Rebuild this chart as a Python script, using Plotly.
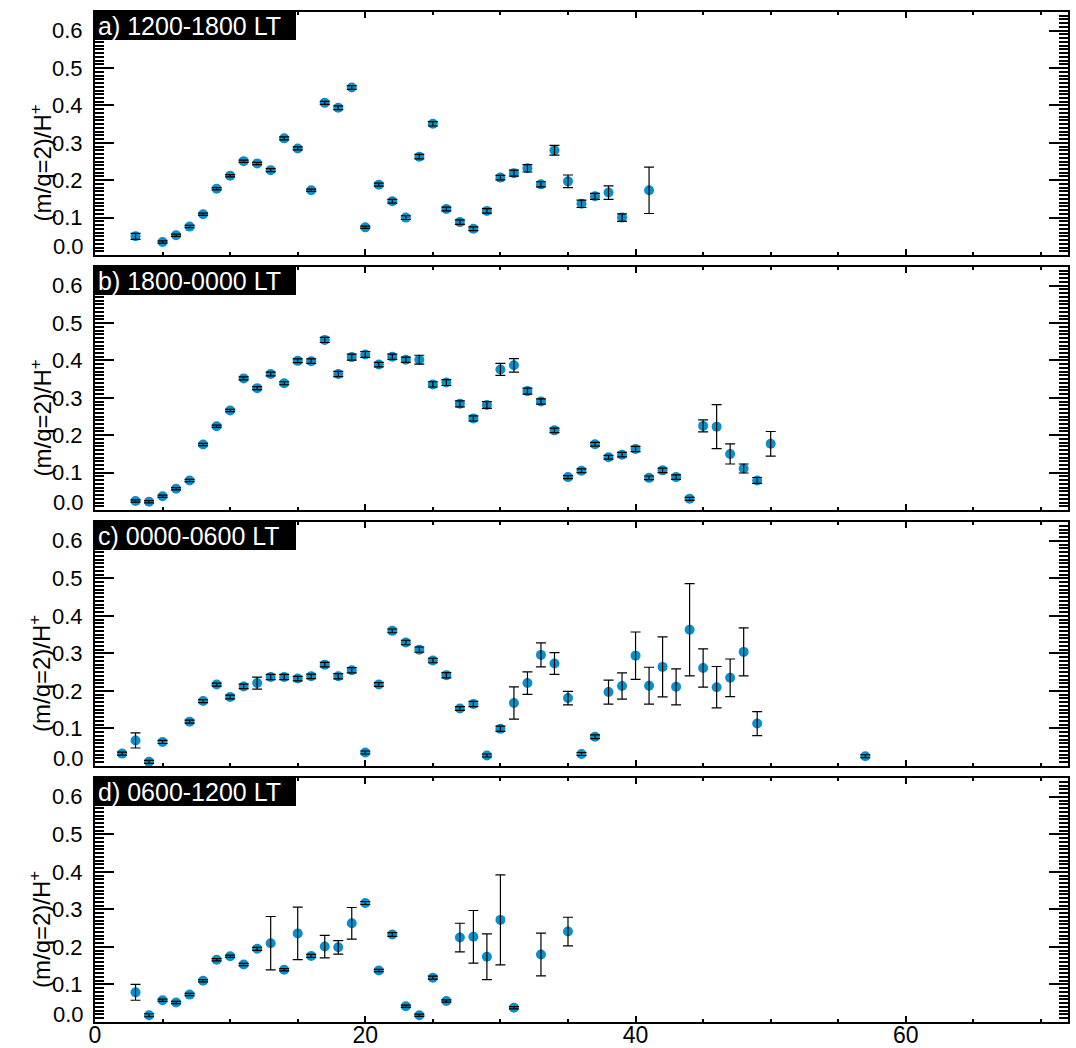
import plotly.graph_objects as go

# ---------------- data ----------------
xa = [3, 5, 6, 7, 8, 9, 10, 11, 12, 13, 14, 15, 16, 17, 18, 19, 20, 21, 22, 23, 24, 25,
      26, 27, 28, 29, 30, 31, 32, 33, 34, 35, 36, 37, 38, 39, 41]
ya = [0.050, 0.035, 0.053, 0.076, 0.109, 0.177, 0.212, 0.251, 0.245, 0.227, 0.312, 0.285,
      0.173, 0.407, 0.394, 0.448, 0.074, 0.188, 0.144, 0.100, 0.263, 0.351, 0.123, 0.088,
      0.070, 0.118, 0.207, 0.219, 0.232, 0.189, 0.280, 0.197, 0.137, 0.157, 0.167, 0.100, 0.173]
ea = [0.008, 0.003, 0.003, 0.003, 0.003, 0.003, 0.003, 0.003, 0.003, 0.004, 0.004, 0.004,
      0.003, 0.004, 0.005, 0.005, 0.003, 0.004, 0.005, 0.005, 0.006, 0.006, 0.005, 0.006,
      0.005, 0.006, 0.006, 0.008, 0.010, 0.007, 0.013, 0.017, 0.010, 0.008, 0.018, 0.010, 0.062]

xb = list(range(3, 51))
yb = [0.024, 0.022, 0.037, 0.057, 0.079, 0.175, 0.224, 0.266, 0.352, 0.326, 0.364, 0.339,
      0.399, 0.398, 0.455, 0.364, 0.409, 0.416, 0.389, 0.410, 0.402, 0.402, 0.336, 0.341,
      0.284, 0.245, 0.281, 0.376, 0.387, 0.318, 0.290, 0.213, 0.088, 0.105, 0.176, 0.141,
      0.148, 0.163, 0.086, 0.106, 0.088, 0.030, 0.225, 0.223, 0.150, 0.111, 0.079, 0.177]
eb = [0.003, 0.003, 0.003, 0.003, 0.003, 0.003, 0.003, 0.003, 0.004, 0.004, 0.005, 0.004,
      0.005, 0.006, 0.007, 0.007, 0.008, 0.008, 0.006, 0.007, 0.007, 0.012, 0.007, 0.008,
      0.008, 0.007, 0.009, 0.016, 0.018, 0.008, 0.007, 0.006, 0.004, 0.005, 0.005, 0.005,
      0.006, 0.007, 0.005, 0.006, 0.006, 0.004, 0.016, 0.059, 0.027, 0.012, 0.008, 0.033]

xc = [2, 3, 4, 5, 7, 8, 9, 10, 11, 12, 13, 14, 15, 16, 17, 18, 19, 20, 21, 22, 23, 24, 25,
      26, 27, 28, 29, 30, 31, 32, 33, 34, 35, 36, 37, 38, 39, 40, 41, 42, 43, 44, 45, 46,
      47, 48, 49, 57]
yc = [0.033, 0.068, 0.011, 0.064, 0.118, 0.173, 0.217, 0.184, 0.212, 0.221, 0.237, 0.237,
      0.233, 0.239, 0.270, 0.239, 0.255, 0.036, 0.217, 0.360, 0.329, 0.310, 0.281, 0.242,
      0.153, 0.165, 0.028, 0.099, 0.168, 0.221, 0.296, 0.273, 0.181, 0.032, 0.078, 0.197,
      0.213, 0.294, 0.214, 0.264, 0.211, 0.363, 0.261, 0.210, 0.235, 0.304, 0.113, 0.026]
ec = [0.004, 0.020, 0.004, 0.004, 0.004, 0.004, 0.004, 0.005, 0.006, 0.016, 0.007, 0.007,
      0.006, 0.006, 0.006, 0.007, 0.007, 0.004, 0.005, 0.005, 0.006, 0.007, 0.006, 0.007,
      0.005, 0.007, 0.004, 0.007, 0.043, 0.030, 0.032, 0.029, 0.018, 0.004, 0.005, 0.032,
      0.035, 0.063, 0.049, 0.080, 0.048, 0.123, 0.051, 0.055, 0.050, 0.064, 0.032, 0.004]

xd = [3, 4, 5, 6, 7, 8, 9, 10, 11, 12, 13, 14, 15, 16, 17, 18, 19, 20, 21, 22, 23, 24, 25,
      26, 27, 28, 29, 30, 31, 33, 35]
yd = [0.079, 0.018, 0.058, 0.052, 0.073, 0.110, 0.166, 0.175, 0.153, 0.195, 0.210, 0.139,
      0.236, 0.176, 0.201, 0.199, 0.263, 0.317, 0.137, 0.233, 0.042, 0.018, 0.118, 0.056,
      0.225, 0.227, 0.174, 0.272, 0.038, 0.180, 0.241]
ed = [0.021, 0.004, 0.003, 0.003, 0.003, 0.003, 0.003, 0.003, 0.003, 0.004, 0.071, 0.003,
      0.070, 0.004, 0.030, 0.018, 0.042, 0.004, 0.003, 0.005, 0.003, 0.003, 0.004, 0.003,
      0.038, 0.070, 0.061, 0.120, 0.003, 0.057, 0.038]

panel_labels = ["a) 1200-1800 LT", "b) 1800-0000 LT", "c) 0000-0600 LT", "d) 0600-1200 LT"]
y_title = "(m/q=2)/H<sup>+</sup>"
x_tick_vals = [0, 20, 40, 60]
y_tick_vals = [0.0, 0.1, 0.2, 0.3, 0.4, 0.5, 0.6]

# ---------------- figure ----------------
W, H = 1076, 1048
ML, MR, MT, MB = 95, 8, 12, 26
PH = H - MT - MB
PW = W - ML - MR
panel_px = [(12, 255), (267, 510), (522, 766), (778, 1022)]  # top, bottom in px


def pfy(px):
    return (H - MB - px) / PH


def pfx(px):
    return (px - ML) / PW


BLUE = "#0a8fc9"
FONT = "Liberation Sans, Arial, Helvetica, sans-serif"

fig = go.Figure()
panels = [(xa, ya, ea), (xb, yb, eb), (xc, yc, ec), (xd, yd, ed)]
for i, (x, y, e) in enumerate(panels):
    n = i + 1
    xn = "x" if n == 1 else f"x{n}"
    yn = "y" if n == 1 else f"y{n}"
    fig.add_trace(go.Scatter(x=x, y=y, mode="markers", xaxis=xn, yaxis=yn,
                             marker=dict(color=BLUE, size=10, line=dict(width=0)),
                             showlegend=False, hoverinfo="skip"))
    fig.add_trace(go.Scatter(x=x, y=y, mode="markers", xaxis=xn, yaxis=yn,
                             marker=dict(color=BLUE, size=1, opacity=0),
                             error_y=dict(type="data", array=e, color="black",
                                          thickness=1.2, width=5),
                             showlegend=False, hoverinfo="skip"))

layout = dict(width=W, height=H, margin=dict(l=ML, r=MR, t=MT, b=MB, autoexpand=False),
              plot_bgcolor="white", paper_bgcolor="white",
              font=dict(family=FONT, color="black", size=22),
              shapes=[], annotations=[])

y_major = [v for v in y_tick_vals if v > 0]

for i in range(4):
    n = i + 1
    top, bot = panel_px[i]
    xk = "xaxis" if n == 1 else f"xaxis{n}"
    yk = "yaxis" if n == 1 else f"yaxis{n}"
    layout[xk] = dict(domain=[0, 1], anchor="y" if n == 1 else f"y{n}",
                      range=[0, 72], showline=True, linewidth=2, linecolor="black",
                      mirror="ticks", ticks="inside", ticklen=6, tickwidth=2,
                      tickcolor="black", tickmode="array", tickvals=x_tick_vals,
                      minor=dict(tickmode="linear", tick0=0, dtick=5, ticks="inside",
                                 ticklen=3, tickwidth=2, tickcolor="black"),
                      showgrid=False, zeroline=False, showticklabels=(n == 4),
                      tickfont=dict(size=23), ticklabelstandoff=-9, automargin=False,
                      fixedrange=True)
    if n != 1:
        layout[xk]["matches"] = "x"
    layout[yk] = dict(domain=[pfy(bot), pfy(top)], anchor="x" if n == 1 else f"x{n}",
                      range=[0, 0.65], showline=True, linewidth=2, linecolor="black",
                      mirror="ticks", ticks="inside", ticklen=19, tickwidth=2,
                      tickcolor="black", tickmode="array", tickvals=y_major,
                      ticktext=[f"{v:.1f}" for v in y_major],
                      minor=dict(tickmode="linear", tick0=0, dtick=0.01, ticks="inside",
                                 ticklen=9, tickwidth=1.6, tickcolor="black"),
                      showgrid=False, zeroline=False, tickfont=dict(size=22),
                      ticklabelstandoff=6, automargin=False, fixedrange=True)
    # "0.0" label, raised off the bottom border as in the reference
    layout["annotations"].append(dict(text=f"{y_tick_vals[0]:.1f}", xref="paper", yref="paper",
                                      x=pfx(86), y=pfy(bot - 8), xanchor="right",
                                      yanchor="middle", showarrow=False,
                                      font=dict(color="black", size=22, family=FONT)))
    # label box
    layout["shapes"].append(dict(type="rect", xref="paper", yref="paper",
                                 x0=0, x1=pfx(296),
                                 y0=pfy(top + 28), y1=pfy(top),
                                 fillcolor="black", line=dict(width=0), layer="above"))
    layout["annotations"].append(dict(text=panel_labels[i], xref="paper", yref="paper",
                                      x=0.001, y=pfy(top + 14), xanchor="left",
                                      yanchor="middle", showarrow=False,
                                      font=dict(color="white", size=25, family=FONT)))
    # y title
    layout["annotations"].append(dict(text=y_title, xref="paper", yref="paper",
                                      x=pfx(40),
                                      y=pfy((top + bot) / 2 + 30),
                                      xanchor="center", yanchor="middle",
                                      textangle=-90, showarrow=False,
                                      font=dict(color="black", size=24, family=FONT)))

fig.update_layout(**layout)
fig.write_html("out.html")
